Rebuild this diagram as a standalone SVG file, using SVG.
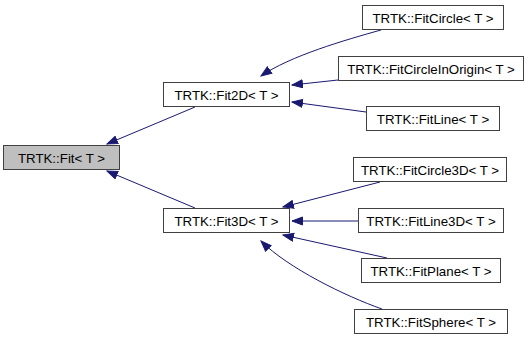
<svg xmlns="http://www.w3.org/2000/svg" width="532" height="341" viewBox="0 0 532 341">
  <style>
    .node rect { fill: #ffffff; stroke: #404040; stroke-width: 1; }
    .node.root rect { fill: #bfbfbf; }
    .node text { font-family: "Liberation Sans", Arial, sans-serif; font-size: 13.3px; fill: #000000; text-anchor: middle; }
    .edges path { fill: none; stroke: #191970; stroke-width: 1; marker-end: url(#arrow); }
  </style>
  <defs>
    <marker id="arrow" markerUnits="userSpaceOnUse" markerWidth="12" markerHeight="10" refX="11" refY="4.5" orient="auto">
      <path d="M0.5,0.5 L11,4.5 L0.5,8.5 z" fill="#191970" stroke="#191970" stroke-width="1"/>
    </marker>
  </defs>
  <rect width="532" height="341" fill="#ffffff"/>

  <!-- inheritance connectors: derived class to base class -->
  <g id="edges" class="edges">
    <path d="M195,107 L107,144"/>
    <path d="M195,208 L107,171"/>
    <path d="M381,30 C345,40 290,56 261,76"/>
    <path d="M338,80 L292,85"/>
    <path d="M366,112 L292,102"/>
    <path d="M380,182 L283,207"/>
    <path d="M358,221 L292,221"/>
    <path d="M387,258 L283,235"/>
    <path d="M382,309 C345,296 288,268 261,241"/>
  </g>

  <g id="node-fit" class="node root">
    <rect x="3.5" y="145.5" width="116" height="24"/>
    <text x="61.5" y="162.5">TRTK::Fit&lt; T &gt;</text>
  </g>
  <g id="node-fit2d" class="node">
    <rect x="163.5" y="82.5" width="126" height="24"/>
    <text x="226.5" y="99.5">TRTK::Fit2D&lt; T &gt;</text>
  </g>
  <g id="node-fit3d" class="node">
    <rect x="163.5" y="208.5" width="126" height="24"/>
    <text x="226.5" y="225.5">TRTK::Fit3D&lt; T &gt;</text>
  </g>
  <g id="node-fitcircle" class="node">
    <rect x="362.5" y="5.5" width="141" height="24"/>
    <text x="433" y="22.5">TRTK::FitCircle&lt; T &gt;</text>
  </g>
  <g id="node-fitcircleinorigin" class="node">
    <rect x="338.5" y="56.5" width="185" height="24"/>
    <text x="431" y="73.5">TRTK::FitCircleInOrigin&lt; T &gt;</text>
  </g>
  <g id="node-fitline" class="node">
    <rect x="366.5" y="106.5" width="133" height="24"/>
    <text x="433" y="123.5">TRTK::FitLine&lt; T &gt;</text>
  </g>
  <g id="node-fitcircle3d" class="node">
    <rect x="353.5" y="157.5" width="153" height="24"/>
    <text x="430" y="174.5">TRTK::FitCircle3D&lt; T &gt;</text>
  </g>
  <g id="node-fitline3d" class="node">
    <rect x="358.5" y="208.5" width="145" height="24"/>
    <text x="431" y="225.5">TRTK::FitLine3D&lt; T &gt;</text>
  </g>
  <g id="node-fitplane" class="node">
    <rect x="361.5" y="258.5" width="139" height="24"/>
    <text x="431" y="275.5">TRTK::FitPlane&lt; T &gt;</text>
  </g>
  <g id="node-fitsphere" class="node">
    <rect x="354.5" y="309.5" width="153" height="24"/>
    <text x="431" y="326.5">TRTK::FitSphere&lt; T &gt;</text>
  </g>
</svg>
